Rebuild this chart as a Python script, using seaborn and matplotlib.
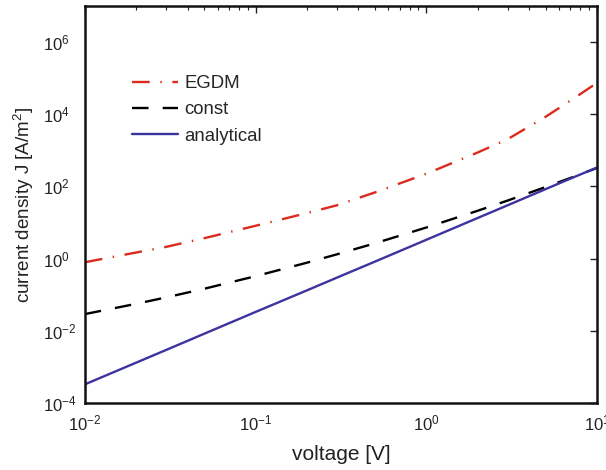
import numpy as np
import pandas as pd
import matplotlib
matplotlib.use("Agg")
import matplotlib.pyplot as plt
import seaborn as sns
from matplotlib.ticker import LogLocator, NullFormatter

# data
voltage = [0.01, 0.02, 0.03, 0.05, 0.1, 0.2, 0.3, 0.5, 1.0, 2.0, 3.0, 5.0, 7.0, 10.0]
egdm = [0.79, 1.47, 2.11, 3.66, 8.1, 18.2, 30, 68, 224, 870, 2040, 8500, 24000, 74000]
const = [0.0288, 0.0556, 0.0838, 0.145, 0.324, 0.767, 1.31, 2.64, 7.24, 21.1, 40.6, 96, 172, 324]
analytical = [3.24e-4, 1.30e-3, 2.93e-3, 8.2e-3, 3.3e-2, 0.131, 0.296, 0.82, 3.3,
              13.3, 30, 84, 165, 333]

series_names = ["EGDM", "const", "analytical"]
colors = {"EGDM": "#dc2a1e", "const": "#000000", "analytical": "#3c32a0"}

df = pd.DataFrame({
    "voltage": voltage * 3,
    "J": egdm + const + analytical,
    "series": ["EGDM"] * len(voltage) + ["const"] * len(voltage) + ["analytical"] * len(voltage),
})

sns.set_style("white")
plt.rcParams["font.family"] = ["Liberation Sans", "DejaVu Sans"]
plt.rcParams["mathtext.fontset"] = "custom"
plt.rcParams["mathtext.rm"] = "Liberation Sans"
plt.rcParams["mathtext.it"] = "Liberation Sans:italic"

fig = plt.figure(figsize=(6.06, 4.70), dpi=100)
ax = fig.add_axes([0.140, 0.143, 0.845, 0.844])

sns.lineplot(data=df, x="voltage", y="J", hue="series", hue_order=series_names,
             palette=colors, ax=ax, linewidth=1.7, legend=True)

ax.set_xscale("log")
ax.set_yscale("log")
ax.set_xlim(1e-2, 1e1)
ax.set_ylim(1e-4, 1e7)

lines = ax.get_lines()
lines[0].set_dashes([7.5, 4.5, 0.6, 4.5])
lines[1].set_dashes([7, 6])

ax.set_yticks([1e-4, 1e-2, 1e0, 1e2, 1e4, 1e6])
ax.yaxis.set_minor_locator(LogLocator(base=10, subs=[]))
ax.xaxis.set_major_locator(LogLocator(base=10, numticks=10))
ax.xaxis.set_minor_locator(LogLocator(base=10, subs=np.arange(2, 10), numticks=20))
ax.xaxis.set_minor_formatter(NullFormatter())

ax.tick_params(which="both", direction="in", top=True, right=True, labelsize=12,
               colors="#222222")
ax.tick_params(which="major", length=5, width=1.0)
ax.tick_params(which="minor", length=3, width=0.8)
ax.tick_params(axis="x", pad=8)
ax.tick_params(axis="y", pad=30)
for lbl in ax.get_yticklabels():
    lbl.set_horizontalalignment("left")

for s in ax.spines.values():
    s.set_linewidth(1.8)
    s.set_color("#111111")

ax.set_xlabel("voltage [V]", fontsize=15, color="#222222", labelpad=8)
ax.set_ylabel("current density J [A/m$^2$]", fontsize=13.6, color="#222222", labelpad=5)

leg = ax.legend(handles=lines[:3], labels=series_names, loc="upper left",
                bbox_to_anchor=(0.092, 0.826), frameon=False, fontsize=13.4,
                handlelength=2.5, handletextpad=0.3, labelspacing=0.5,
                borderaxespad=0, borderpad=0)

fig.savefig("out.png", dpi=100)
